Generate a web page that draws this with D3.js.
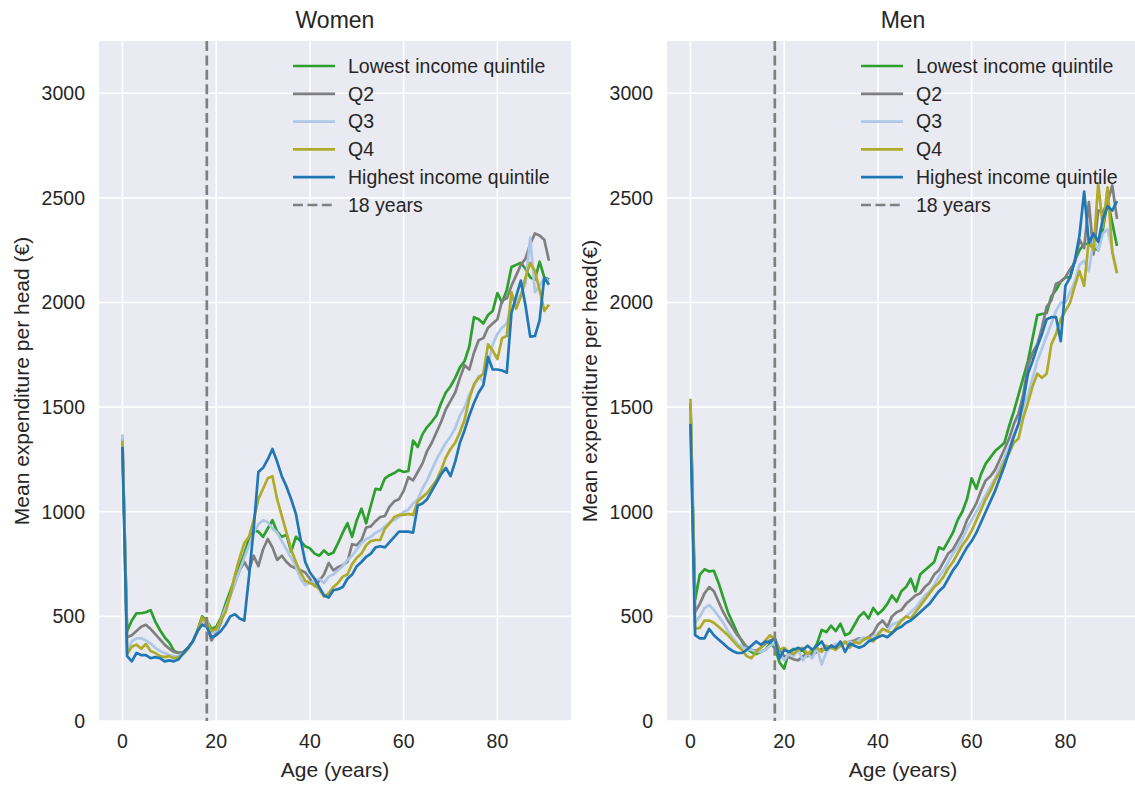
<!DOCTYPE html>
<html>
<head>
<meta charset="utf-8">
<script src="https://cdn.jsdelivr.net/npm/d3@7/dist/d3.min.js"></script>
<style>
body { margin: 0; background: #ffffff; }
text { font-family: "Liberation Sans", Arial, sans-serif; fill: #262626; }
</style>
</head>
<body>
<div id="chart"></div>
<script>
// ages 0..91
var ages = [0,1,2,3,4,5,6,7,8,9,10,11,12,13,14,15,16,17,18,19,20,
    21,22,23,24,25,26,27,28,29,30,31,32,33,34,35,36,37,38,39,40,
    41,42,43,44,45,46,47,48,49,50,51,52,53,54,55,56,57,58,59,60,
    61,62,63,64,65,66,67,68,69,70,71,72,73,74,75,76,77,78,79,80,
    81,82,83,84,85,86,87,88,89,90,91];

var series_names = ["Lowest income quintile", "Q2", "Q3", "Q4", "Highest income quintile"];
var series_colors = ["#2ca02c", "#7f7f7f", "#aec7e8", "#afab2a", "#1f77b4"];
var x_ticks = [0, 20, 40, 60, 80];
var y_ticks = [0, 500, 1000, 1500, 2000, 2500, 3000];
var cutoff_age = 18;

// women
var women_q1 = [1330,430,480,515,515,520,530,475,435,400,375,335,325,330,350,380,430,500,480,440,450,
    490,560,620,680,740,800,870,910,905,880,
    920,960,905,880,890,810,880,860,835,825,
    800,790,815,795,805,850,900,945,880,960,
    1015,945,1030,1110,1105,1160,1175,1185,1200,1190,
    1195,1340,1310,1370,1405,1430,1460,1520,1570,1600,
    1640,1690,1720,1790,1930,1920,1900,1940,1960,2045,
    2000,2060,2170,2180,2190,2160,2120,2110,2195,2120,2110];
var women_q2 = [1350,400,410,430,450,460,440,415,390,365,345,330,325,330,350,380,430,495,455,385,420,
    470,540,600,660,720,760,720,790,740,820,
    870,830,770,790,760,740,730,720,710,680,
    645,670,700,755,720,735,745,760,845,840,
    865,925,930,955,975,980,1025,1050,1060,1100,
    1165,1150,1190,1230,1290,1330,1380,1430,1490,1530,
    1570,1640,1700,1680,1760,1820,1830,1880,1900,1920,
    2010,2020,2080,2130,2180,2210,2280,2330,2320,2300,2200];
var women_q3 = [1370,330,380,395,395,385,370,350,335,325,315,310,310,325,345,380,425,470,480,420,430,
    480,540,600,660,720,780,840,900,940,960,
    950,920,900,860,820,780,740,680,650,660,
    670,680,660,690,700,720,740,770,790,820,
    850,870,880,900,910,930,950,960,975,1000,
    1010,1040,1060,1110,1150,1200,1250,1290,1330,1360,
    1400,1460,1500,1560,1600,1650,1620,1700,1800,1850,
    1880,1900,1980,2000,2040,2090,2310,2050,2080,2120,2100];
var women_q4 = [1340,320,355,365,345,368,335,325,310,305,310,300,305,320,345,380,425,495,470,430,440,
    480,520,600,700,780,850,880,960,1060,1110,
    1160,1170,1060,980,900,820,760,710,670,660,
    650,630,595,610,640,660,690,700,750,780,
    800,840,860,865,865,920,945,975,985,985,
    990,985,1050,1070,1090,1120,1150,1200,1260,1300,
    1330,1380,1440,1540,1610,1640,1660,1800,1770,1730,
    1830,1840,2050,1970,2030,2120,2190,2150,2060,1960,1990];
var women_q5 = [1310,310,285,325,315,315,300,305,300,285,290,285,295,325,350,380,430,460,450,400,410,
    430,460,500,510,490,480,690,920,1190,1210,
    1250,1300,1240,1170,1120,1060,990,870,760,710,
    680,640,600,590,625,630,640,680,700,740,
    760,785,800,830,835,830,855,880,905,905,
    905,900,1030,1040,1060,1100,1140,1180,1210,1170,
    1240,1330,1390,1460,1520,1570,1605,1740,1680,1680,
    1675,1665,1950,2030,2105,1985,1837,1840,1915,2120,2085];

// men
var men_q1 = [1520,580,700,725,715,718,660,590,520,470,420,380,345,330,320,330,340,370,350,280,250,
    330,345,330,340,310,330,370,435,425,455,
    430,465,410,420,460,500,520,490,540,510,
    530,560,600,570,620,640,680,620,700,720,
    740,760,830,820,860,900,960,1000,1060,1160,
    1110,1180,1230,1260,1290,1310,1330,1410,1480,1560,
    1640,1720,1830,1940,1945,1950,2030,2060,2100,2120,
    2120,2200,2250,2280,2280,2260,2250,2350,2490,2380,2270];
var men_q2 = [1500,520,560,610,640,620,570,520,480,445,410,385,355,340,335,350,370,385,395,340,310,
    305,295,290,310,325,315,330,345,340,360,
    360,370,375,380,385,395,390,400,420,460,
    480,450,500,520,530,560,580,600,610,640,
    660,700,720,760,800,820,860,900,960,1000,
    1040,1100,1150,1170,1200,1250,1300,1350,1420,1470,
    1560,1700,1760,1800,1880,1980,2010,2090,2100,2120,
    2160,2190,2300,2260,2480,2230,2440,2430,2480,2560,2400];
var men_q3 = [1480,470,500,540,555,530,500,470,430,400,370,355,345,340,330,330,340,360,370,320,290,
    320,310,340,290,320,300,350,270,330,350,
    370,360,370,380,370,390,400,390,400,420,
    440,430,460,470,480,500,520,540,570,600,
    620,650,690,720,760,800,830,870,920,960,
    1000,1040,1080,1120,1160,1210,1260,1310,1370,1420,
    1500,1560,1640,1720,1780,1840,1900,1960,2000,2000,
    2050,2100,2180,2200,2150,2300,2250,2330,2350,2250,2140];
var men_q4 = [1540,440,445,480,480,470,450,430,410,385,360,340,310,300,330,350,385,410,390,340,350,
    330,320,340,350,320,340,350,330,360,350,
    340,360,380,350,380,370,390,400,380,410,
    440,430,420,450,480,500,490,520,550,580,
    610,640,660,690,730,760,800,840,870,910,
    960,1010,1060,1100,1150,1190,1240,1280,1330,1350,
    1450,1520,1600,1660,1640,1660,1800,1850,1920,1960,
    2000,2080,2150,2080,2300,2250,2570,2360,2550,2240,2140];
var men_q5 = [1420,410,395,395,440,410,390,370,350,335,325,325,340,360,380,365,380,375,395,300,340,
    330,340,350,340,360,340,360,380,340,360,
    350,380,330,370,360,350,360,380,390,400,
    410,400,420,440,450,470,480,500,520,540,
    560,590,620,640,680,720,750,790,830,860,
    900,950,1000,1050,1100,1160,1220,1290,1360,1420,
    1530,1660,1720,1790,1850,1920,1930,1930,1815,2080,
    2120,2200,2320,2530,2285,2330,2290,2400,2460,2440,2485];

var draw_panels = {
    width: 1135,
    height: 787,
    view: 0,
    top: 41,
    bottom: 721,
    initialize: function() {
        var self = this;
        self.view = d3.select("#chart").append("svg")
            .attr("width", self.width)
            .attr("height", self.height);
        self.draw({ id: "w", left: 99, right: 571, title: "Women",
            ylabel: "Mean expenditure per head (€)", ylabel_x: 22,
            series: [women_q1, women_q2, women_q3, women_q4, women_q5] });
        self.draw({ id: "m", left: 667, right: 1139, title: "Men",
            ylabel: "Mean expenditure per head(€)", ylabel_x: 590,
            series: [men_q1, men_q2, men_q3, men_q4, men_q5] });
    },

    draw: function(p) {
        var self = this;
        var x = d3.scaleLinear().domain([-5, 95.7]).range([p.left, p.right]);
        var y = d3.scaleLinear().domain([0, 3250]).range([self.bottom, self.top]);
        var g = self.view.append("g");

        g.append("rect")
            .attr("x", p.left).attr("y", self.top)
            .attr("width", p.right - p.left).attr("height", self.bottom - self.top)
            .attr("fill", "#eaeaf2");

        g.append("clipPath").attr("id", "clip_" + p.id)
            .append("rect")
            .attr("x", p.left).attr("y", self.top)
            .attr("width", p.right - p.left).attr("height", self.bottom - self.top);

        // grid
        g.append("g").selectAll("line").data(x_ticks).enter().append("line")
            .attr("x1", function(d) { return x(d); })
            .attr("x2", function(d) { return x(d); })
            .attr("y1", self.top).attr("y2", self.bottom)
            .attr("stroke", "#ffffff").attr("stroke-width", 1.6);
        g.append("g").selectAll("line").data(y_ticks).enter().append("line")
            .attr("x1", p.left).attr("x2", p.right)
            .attr("y1", function(d) { return y(d); })
            .attr("y2", function(d) { return y(d); })
            .attr("stroke", "#ffffff").attr("stroke-width", 1.6);

        // tick labels
        g.append("g").selectAll("text").data(x_ticks).enter().append("text")
            .attr("x", function(d) { return x(d); })
            .attr("y", 748)
            .attr("text-anchor", "middle")
            .style("font-size", "19.5px")
            .text(function(d) { return d; });
        g.append("g").selectAll("text").data(y_ticks).enter().append("text")
            .attr("x", p.left - 14)
            .attr("y", function(d) { return y(d); })
            .attr("dy", "0.35em")
            .attr("text-anchor", "end")
            .style("font-size", "19.5px")
            .text(function(d) { return d; });

        // lines
        var line = d3.line()
            .x(function(d, i) { return x(ages[i]); })
            .y(function(d) { return y(d); });
        var lines = g.append("g").attr("clip-path", "url(#clip_" + p.id + ")");
        lines.selectAll("path").data(p.series).enter().append("path")
            .attr("d", line)
            .attr("fill", "none")
            .attr("stroke", function(d, i) { return series_colors[i]; })
            .attr("stroke-width", 2.7)
            .attr("stroke-linejoin", "round");
        lines.append("line")
            .attr("x1", x(cutoff_age)).attr("x2", x(cutoff_age))
            .attr("y1", self.top).attr("y2", self.bottom)
            .attr("stroke", "#808080").attr("stroke-width", 2.7)
            .attr("stroke-dasharray", "10,4.4");

        // legend
        var legend_items = series_names.map(function(d, i) {
            return { name: d, color: series_colors[i], dash: null };
        });
        legend_items.push({ name: "18 years", color: "#808080", dash: "10,4.4" });
        var lg = g.append("g").selectAll("g").data(legend_items).enter().append("g")
            .attr("transform", function(d, i) {
                return "translate(" + (p.left + 194) + "," + (66 + i * 27.8) + ")";
            });
        lg.append("line")
            .attr("x1", 0).attr("x2", 42)
            .attr("stroke", function(d) { return d.color; })
            .attr("stroke-width", 2.7)
            .attr("stroke-dasharray", function(d) { return d.dash; });
        lg.append("text")
            .attr("x", 55).attr("dy", "0.35em")
            .style("font-size", "19.5px")
            .text(function(d) { return d.name; });

        // titles
        g.append("text")
            .attr("x", (p.left + p.right) / 2).attr("y", 28)
            .attr("text-anchor", "middle")
            .style("font-size", "23px")
            .text(p.title);
        g.append("text")
            .attr("x", (p.left + p.right) / 2).attr("y", 777)
            .attr("text-anchor", "middle")
            .style("font-size", "21px")
            .text("Age (years)");
        g.append("text")
            .attr("transform", "translate(" + p.ylabel_x + "," + ((self.top + self.bottom) / 2) + ") rotate(-90)")
            .attr("dy", "0.35em")
            .attr("text-anchor", "middle")
            .style("font-size", "21px")
            .text(p.ylabel);
    }
}

draw_panels.initialize();
</script>
</body>
</html>
